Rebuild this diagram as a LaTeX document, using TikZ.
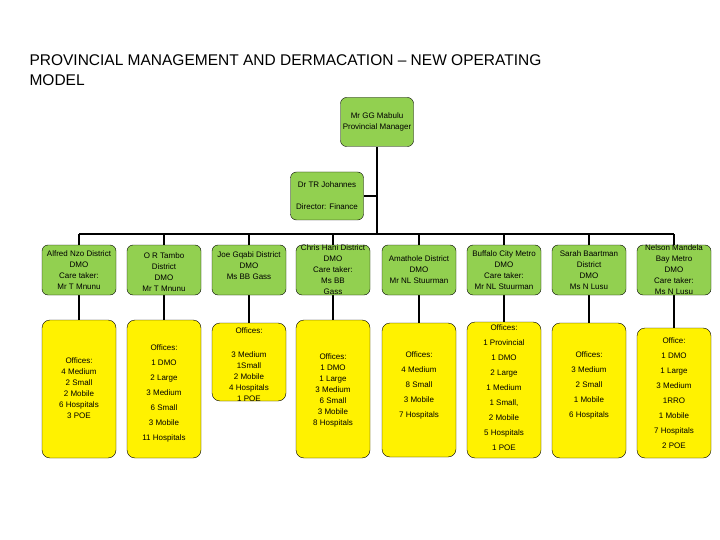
\documentclass[tikz,border=0pt]{standalone}
\usepackage{fontspec}
\setmainfont{Liberation Sans}
\begin{document}
\begin{tikzpicture}[x=1pt,y=-1pt,
 grn/.style={draw,rounded corners=6pt,minimum width=74pt,minimum height=50pt,inner sep=0pt,fill={rgb,255:red,146;green,208;blue,80}},
 txa/.style={align=center,font=\fontsize{8}{11}\selectfont,inner sep=0pt},
 txb/.style={align=center,font=\fontsize{8}{15}\selectfont,inner sep=0pt},
 ln/.style={line width=1.2pt}]
\useasboundingbox (0,0) rectangle (720,540);
\node[anchor=west,align=left,font=\fontsize{15.5}{20}\selectfont] (title) at (26,70) {PROVINCIAL MANAGEMENT AND DERMACATION -- NEW OPERATING\\MODEL};
\coordinate (j1) at (377,196);
\coordinate (bl) at (79,234);
\coordinate (br) at (674,234);
\coordinate (bm) at (377,234);
\draw[ln] (377,147) -- (bm);
\draw[ln] (364,196) -- (j1);
\draw[ln] (bl) -- (br);
\node[grn,minimum width=73pt,minimum height=49pt] (pm) at (377,122) {};
\node[txa] (pmt) at (377,122) {Mr GG Mabulu\\Provincial Manager};
\node[grn,minimum width=73pt,minimum height=48pt] (fin) at (327,196) {};
\node[txa,font=\fontsize{8}{22}\selectfont] (fint) at (327,196) {Dr TR Johannes\\Director: Finance};
\foreach \n/\x/\yt/\yb in {a/79/320/458,b/164/320/458,c/249/323/401,d/333/320/458,e/419/323/457,f/504/322/458,g/589/323/458,h/674/328/458}{
  \draw[ln] (\x,234) -- (\x,\yt);
  \node[grn] (g\n) at (\x,270) {};
  \path[draw,rounded corners=8pt,fill=yellow] (\x-37,\yt) rectangle (\x+37,\yb);
}
\node[txa] at (79,270) {Alfred Nzo District\\DMO\\Care taker:\\Mr T Mnunu};
\node[txa] at (164,272) {O R Tambo\\District\\DMO\\Mr T Mnunu};
\node[txa] at (249,266) {Joe Gqabi District\\DMO\\Ms BB Gass};
\node[txa] at (333,270) {Chris Hani District\\DMO\\Care taker:\\Ms BB\\Gass};
\node[txa] at (419,270) {Amathole District\\DMO\\Mr NL Stuurman};
\node[txa] at (504,270) {Buffalo City Metro\\DMO\\Care taker:\\Mr NL Stuurman};
\node[txa] at (589,270) {Sarah Baartman\\District\\DMO\\Ms N Lusu};
\node[txa] at (674,270) {Nelson Mandela\\Bay Metro\\DMO\\Care taker:\\Ms N Lusu};
\node[txa] at (79,388) {Offices:\\4 Medium\\2 Small\\2 Mobile\\6 Hospitals\\3 POE};
\node[txb] at (164,393) {Offices:\\1 DMO\\2 Large\\3 Medium\\6 Small\\3 Mobile\\11 Hospitals};
\node[txa] at (249,365) {Offices:\\[2pt]\\3 Medium\\1Small\\2 Mobile\\4 Hospitals\\1 POE};
\node[txa] at (333,390) {Offices:\\1 DMO\\1 Large\\3 Medium\\6 Small\\3 Mobile\\8 Hospitals};
\node[txb] at (419,385) {Offices:\\4 Medium\\8 Small\\3 Mobile\\7 Hospitals};
\node[txb] at (504,388) {Offices:\\1 Provincial\\1 DMO\\2 Large\\1 Medium\\1 Small,\\2 Mobile\\5 Hospitals\\1 POE};
\node[txb] at (589,385) {Offices:\\3 Medium\\2 Small\\1 Mobile\\6 Hospitals};
\node[txb] at (674,393) {Office:\\1 DMO\\1 Large\\3 Medium\\1RRO\\1 Mobile\\7 Hospitals\\2 POE};
\end{tikzpicture}
\end{document}
